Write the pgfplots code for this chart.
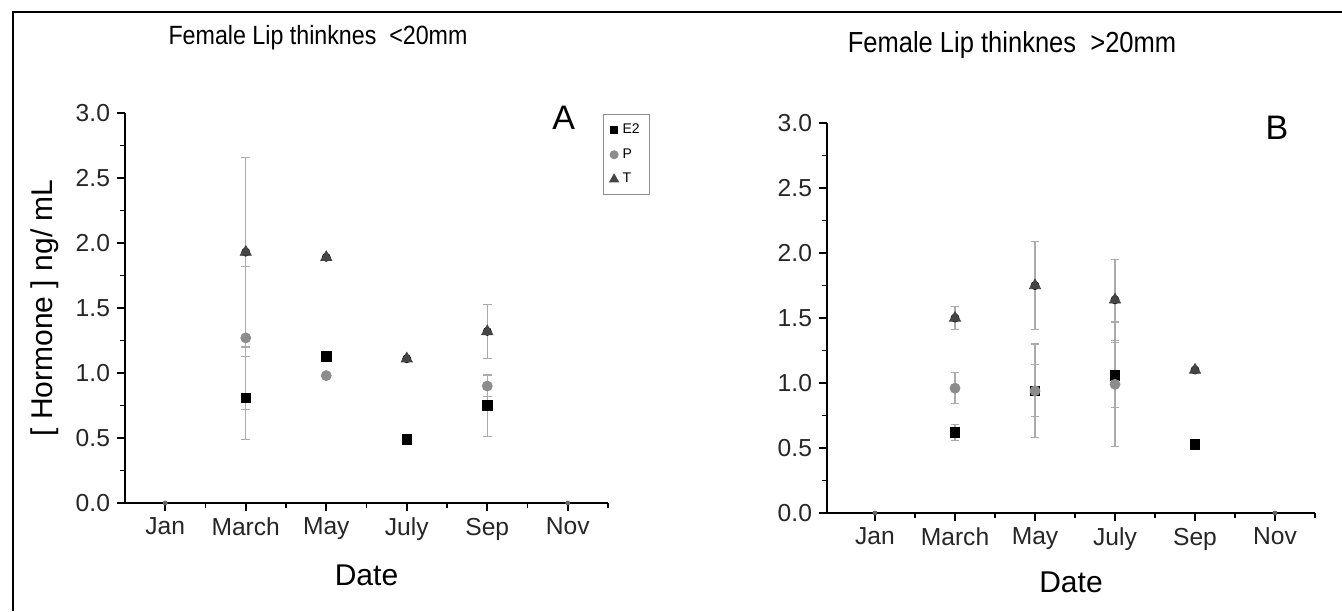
\documentclass[border=0pt]{standalone}
\usepackage{fontspec}
\setmainfont{Liberation Sans}
\newfontfamily\titlefont[FakeStretch=0.88]{Liberation Sans}
\usepackage{pgfplots}
\pgfplotsset{compat=1.18}

\definecolor{eCol}{HTML}{000000}
\definecolor{pCol}{HTML}{8C8C8C}
\definecolor{tCol}{HTML}{454545}
\definecolor{errCol}{HTML}{ABABAB}

% month number, value, error
\pgfplotstableread{
x y e
3 0.81 0.32
5 1.13 0
7 0.49 0
9 0.75 0.24
}\leftE
\pgfplotstableread{
x y e
3 1.27 0.55
5 0.98 0
9 0.90 0.08
}\leftP
\pgfplotstableread{
x y e
3 1.93 0.73
5 1.89 0
7 1.11 0
9 1.32 0.21
}\leftT
\pgfplotstableread{
x y e
3 0.62 0.06
5 0.94 0.20
7 1.06 0.25
9 0.53 0
}\rightE
\pgfplotstableread{
x y e
3 0.96 0.12
5 0.94 0.36
7 0.99 0.48
}\rightP
\pgfplotstableread{
x y e
3 1.50 0.09
5 1.75 0.34
7 1.64 0.31
9 1.10 0
}\rightT
% empty months sit on the axis
\pgfplotstableread{
x y
1 0
11 0
}\zeros

\pgfplotsset{
  panel/.style={
    scale only axis, height=195pt,
    xmax=12, ymin=0, ymax=3,
    axis x line*=bottom, axis y line*=left,
    axis line style={line width=1pt},
    xtick={1,3,5,7,9,11}, xticklabels={Jan,March,May,July,Sep,Nov},
    minor xtick={2,4,6,8,10,12},
    ytick={0,0.5,...,3}, minor ytick={0.25,0.75,...,2.75},
    yticklabel style={/pgf/number format/.cd, fixed, fixed zerofill, precision=1},
    /pgf/number format/assume math mode=true,
    tick align=outside, major tick length=4pt, minor tick length=2.5pt,
    every tick/.style={line width=0.9pt, black},
    ticklabel style={font=\fontsize{12.3}{14}\selectfont, text=black!85},
    xlabel style={font=\fontsize{15}{17}\selectfont, at={(axis description cs:0.5,0)}, anchor=center},
    ylabel style={font=\fontsize{15}{17}\selectfont, anchor=center},
    clip=false,
  },
  errs/.style={forget plot, only marks, mark=none,
    error bars/.cd, y dir=both, y explicit,
    error bar style={errCol, line width=0.6pt},
    error mark options={errCol, rotate=90, mark size=2.2pt, line width=0.6pt}},
  sE/.style={only marks, mark=square*, mark size=2.4pt, eCol},
  sP/.style={only marks, mark=*, mark size=2.5pt, pCol},
  sT/.style={only marks, mark=triangle*, mark size=3.2pt, tCol},
  sZ/.style={forget plot, only marks, mark=*, mark size=1pt, black!60},
}

\begin{document}
\begin{tikzpicture}
\useasboundingbox (0,0) rectangle (671pt,305.5pt);
\draw[line width=0.8pt] (6.5pt,0) -- (6.5pt,299.5pt) -- (671pt,299.5pt);

\node[font=\titlefont\fontsize{13.2}{15}\selectfont] at (159pt,286.5pt) {Female Lip thinknes\ \ <20mm};
\node[font=\titlefont\fontsize{14.5}{16}\selectfont] at (506pt,283pt) {Female Lip thinknes\ \ >20mm};

% panel A
\begin{axis}[panel, at={(62.5pt,54pt)}, anchor=south west, width=241.5pt, xmin=0,
    xlabel={Date}, ylabel={[ Hormone ] ng/ mL},
    xlabel style={yshift=-36pt},
    ylabel style={at={(axis description cs:-0.166,0.5)}},
    legend style={at={(rel axis cs:0.99,0.997)}, anchor=north west,
      draw=black!45, line width=0.5pt, font=\fontsize{7}{8}\selectfont,
      inner xsep=3pt, inner ysep=2.5pt, row sep=2pt, cells={anchor=west}},
    legend image post style={scale=0.8}]
\addplot[errs] table[x=x, y=y, y error=e] {\leftE};
\addplot[errs] table[x=x, y=y, y error=e] {\leftP};
\addplot[errs] table[x=x, y=y, y error=e] {\leftT};
\addplot[sE] table[x=x, y=y] {\leftE};
\addplot[sP] table[x=x, y=y] {\leftP};
\addplot[sT] table[x=x, y=y] {\leftT};
\addplot[sZ] table[x=x, y=y] {\zeros};
\legend{E2, P, T}
\node[font=\fontsize{17}{19}\selectfont] at (axis cs:10.9,2.96) {A};
\end{axis}

% panel B
\begin{axis}[panel, at={(413.5pt,49pt)}, anchor=south west, width=244pt, xmin=-0.2,
    xlabel={Date}, xlabel style={yshift=-34.5pt}]
\addplot[errs] table[x=x, y=y, y error=e] {\rightE};
\addplot[errs] table[x=x, y=y, y error=e] {\rightP};
\addplot[errs] table[x=x, y=y, y error=e] {\rightT};
\addplot[sE] table[x=x, y=y] {\rightE};
\addplot[sP] table[x=x, y=y] {\rightP};
\addplot[sT] table[x=x, y=y] {\rightT};
\addplot[sZ] table[x=x, y=y] {\zeros};
\node[font=\fontsize{17}{19}\selectfont] at (axis cs:11.05,2.96) {B};
\end{axis}
\end{tikzpicture}
\end{document}
